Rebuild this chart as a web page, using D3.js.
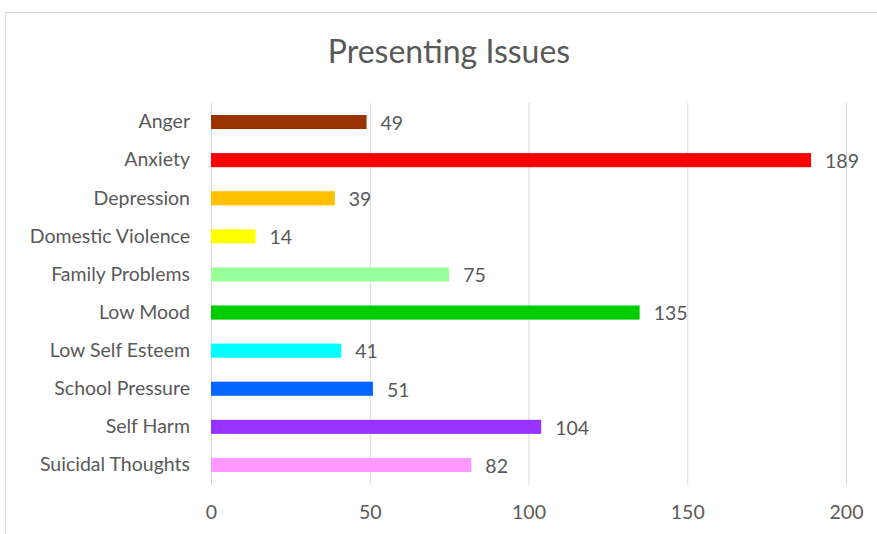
<!DOCTYPE html>
<html><head><meta charset="utf-8">
<script src="https://cdn.jsdelivr.net/npm/d3@7"></script>
<style>body{margin:0;background:#fff}svg{display:block}text{font-family:Lato,"Open Sans",sans-serif;fill:#595959}</style>
</head><body><svg id="c" width="877" height="534"></svg>
<script>
const categories = ["Anger","Anxiety","Depression","Domestic Violence","Family Problems","Low Mood","Low Self Esteem","School Pressure","Self Harm","Suicidal Thoughts"];
const values = [49,189,39,14,75,135,41,51,104,82];
const colors = ["#993300","#FF0000","#FFC000","#FFFF00","#99FF99","#00CC00","#00FFFF","#0066FF","#9933FF","#FF99FF"];
const tickValues = [0,50,100,150,200];
const title = "Presenting Issues";

const svg = d3.select("#c");
svg.append("rect").attr("x",5.5).attr("y",12.5).attr("width",900).attr("height",540)
  .attr("fill","#fff").attr("stroke","#d9d9d9");
const x = d3.scaleLinear().domain([0,200]).range([211,846]);
const y = d3.scaleBand().domain(categories).range([103,484]).paddingInner(0.63).paddingOuter(0.315);

svg.append("text").attr("x",449).attr("y",63).attr("text-anchor","middle")
  .style("font-size","32px").text(title);

// gridlines
svg.append("g").selectAll("line").data(tickValues).join("line")
  .attr("x1",d=>x(d)+0.5).attr("x2",d=>x(d)+0.5).attr("y1",103).attr("y2",485)
  .attr("stroke","#d9d9d9").attr("stroke-width",1);

// x axis labels
const xa = svg.append("g").attr("transform","translate(0,485)")
  .call(d3.axisBottom(x).tickValues(tickValues).tickSize(0).tickPadding(20));
xa.select(".domain").remove();
xa.selectAll("text").style("font-size","19.5px").attr("fill","#595959").style("font-family","Lato,sans-serif");

// y axis labels
const ya = svg.append("g").attr("transform","translate(190,0)")
  .call(d3.axisLeft(y).tickSize(0).tickPadding(0));
ya.select(".domain").remove();
ya.selectAll("text").style("font-size","19.5px").attr("fill","#595959").style("font-family","Lato,sans-serif");

// bars
svg.append("g").selectAll("rect").data(categories).join("rect")
  .attr("x",x(0)).attr("y",d=>y(d)).attr("height",y.bandwidth())
  .attr("width",(d,i)=>x(values[i])-x(0)).attr("fill",(d,i)=>colors[i]);

// value labels
svg.append("g").selectAll("text").data(categories).join("text")
  .attr("x",(d,i)=>x(values[i])+14).attr("y",d=>y(d)+y.bandwidth()/2+1).attr("dy","0.35em")
  .style("font-size","19.5px").text((d,i)=>values[i]);
</script></body></html>
